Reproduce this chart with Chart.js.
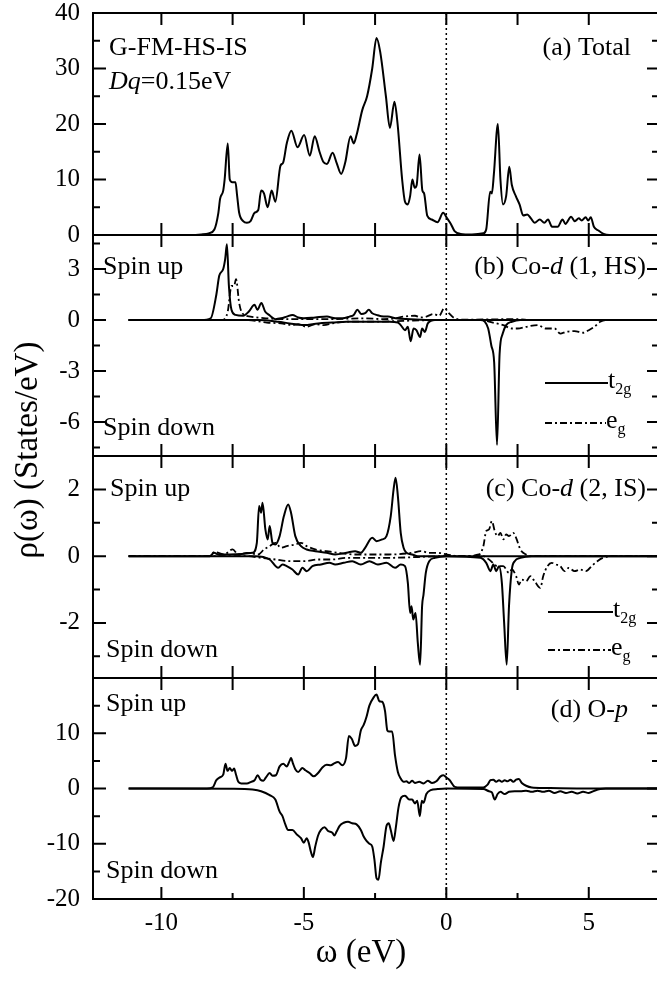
<!DOCTYPE html>
<html>
<head>
<meta charset="utf-8">
<script src="https://cdn.jsdelivr.net/npm/chart.js@4/dist/chart.umd.min.js"></script>
<style>
html,body{margin:0;padding:0;overflow:hidden;background:#fff;}
#wrap{position:relative;width:660px;height:981px;}
</style>
</head>
<body>
<div id="wrap"><canvas id="c" width="660" height="981"></canvas></div>
<script>
// ---------- DATA (omega in eV, rho in States/eV) ----------
const xTicks = [-10, -7.5, -5, -2.5, 0, 2.5, 5, 7.5];
const xLabels = [-10, -5, 0, 5];

// (a) Total
const totalDOS = [[-11.15,0],[-9.0,0],[-8.6,0.1],[-8.34,0.3],[-8.14,1],[-8.0,4],[-7.94,6.5],[-7.83,8],[-7.78,10],[-7.67,16.5],[-7.6,10],[-7.51,9.5],[-7.4,9.5],[-7.34,7],[-7.27,4],[-7.13,2.5],[-7.0,2.2],[-6.87,2.5],[-6.73,4],[-6.6,4.5],[-6.5,8],[-6.4,7.5],[-6.27,5],[-6.13,8],[-6.0,6],[-5.82,12.5],[-5.73,13],[-5.6,16.5],[-5.44,18.8],[-5.22,15.8],[-4.99,18],[-4.79,14.3],[-4.62,17.8],[-4.45,15],[-4.32,13.2],[-4.19,12.8],[-3.99,14.8],[-3.85,13],[-3.69,11],[-3.55,13],[-3.36,17.8],[-3.25,16.5],[-3.15,18],[-2.95,22.5],[-2.78,25],[-2.6,30],[-2.45,35.5],[-2.32,33],[-2.12,25],[-1.98,19.3],[-1.82,24],[-1.71,20],[-1.55,10],[-1.45,6],[-1.35,5.5],[-1.27,7],[-1.19,10],[-1.11,8.5],[-1.04,9],[-0.94,14.5],[-0.84,8],[-0.78,7.5],[-0.67,3.5],[-0.51,2.8],[-0.31,2.3],[-0.11,4],[0.03,3],[0.16,2],[0.29,0.7],[0.5,0.2],[0.9,0.1],[1.3,0.3],[1.4,1],[1.54,7.8],[1.6,7.5],[1.67,11],[1.81,20],[1.9,10],[1.99,5.5],[2.1,7],[2.21,12.3],[2.3,9],[2.44,7],[2.57,5.5],[2.7,3.5],[2.84,3.7],[2.97,3],[3.1,2.2],[3.28,2.8],[3.44,2.2],[3.57,2.8],[3.71,1.5],[3.91,1.5],[4.08,2.8],[4.18,2],[4.38,3.3],[4.51,2.5],[4.65,3],[4.75,2.6],[4.89,3.2],[4.98,2.6],[5.07,3.2],[5.18,1.5],[5.34,0.8],[5.52,0.2],[5.72,0],[7.5,0]];

// (b) Co-d (1, HS)
const coHS_t2g_up = [[-11.15,0],[-8.6,0],[-8.27,0.1],[-8.07,1.5],[-7.97,2.6],[-7.83,3.0],[-7.76,3.6],[-7.7,4.45],[-7.63,2.0],[-7.54,0.6],[-7.4,0.3],[-7.13,0.25],[-6.93,0.5],[-6.73,0.9],[-6.63,0.6],[-6.49,1.0],[-6.36,0.5],[-6.22,0.3],[-6.0,0.05],[-5.8,0.1],[-5.6,0.2],[-5.4,0.3],[-5.2,0.15],[-5.0,0.1],[-4.6,0.15],[-4.19,0.2],[-3.9,0.1],[-3.65,0.1],[-3.4,0.2],[-3.25,0.3],[-3.12,0.6],[-2.98,0.35],[-2.85,0.4],[-2.72,0.6],[-2.6,0.4],[-2.45,0.3],[-2.2,0.2],[-2.05,0.2],[-1.78,0.1],[-1.25,0.05],[-0.5,0],[7.5,0]];
const coHS_eg_up = [[-11.15,0],[-7.85,0],[-7.67,0.5],[-7.54,2.0],[-7.45,2.0],[-7.38,2.4],[-7.27,1.0],[-7.16,0.4],[-6.87,0.2],[-6.33,0.1],[-5.5,0.05],[-4.2,0.05],[-2.85,0.1],[-2.2,0.05],[-1.78,0.1],[-1.5,0.2],[-1.1,0.25],[-0.9,0.15],[-0.7,0.2],[-0.45,0.35],[-0.25,0.25],[-0.07,0.7],[0.09,0.4],[0.29,0.1],[0.6,0.02],[2.5,0.05],[3,0],[7.5,0]];
const coHS_t2g_dn = [[-11.15,0],[-6.6,0],[-5.9,-0.1],[-5.5,-0.2],[-5.0,-0.3],[-4.5,-0.2],[-4.0,-0.15],[-3.5,-0.1],[-2.0,-0.1],[-1.7,-0.15],[-1.6,-0.3],[-1.45,-0.6],[-1.35,-0.4],[-1.25,-1.25],[-1.15,-0.5],[-1.05,-0.6],[-0.92,-1.0],[-0.85,-0.5],[-0.75,-0.7],[-0.65,-0.2],[-0.4,0],[1.2,0],[1.35,-0.1],[1.47,-0.5],[1.58,-1.5],[1.68,-2.5],[1.78,-7.35],[1.87,-2.0],[1.98,-0.8],[2.1,-0.3],[2.3,-0.1],[2.6,0],[7.5,0]];
const coHS_eg_dn = [[-11.15,0],[-7,0],[-6.5,-0.1],[-6.3,-0.15],[-5.8,-0.2],[-5.4,-0.3],[-5.2,-0.25],[-4.9,-0.4],[-4.6,-0.25],[-4.3,-0.3],[-4.0,-0.2],[-3.5,-0.1],[-2.5,-0.1],[-1.5,-0.05],[0,0],[1.3,0],[1.5,-0.1],[2.0,-0.3],[2.3,-0.5],[2.5,-0.5],[2.8,-0.4],[3.2,-0.3],[3.5,-0.5],[3.8,-0.5],[4.0,-0.8],[4.2,-0.7],[4.5,-0.65],[4.8,-0.75],[5.0,-0.6],[5.2,-0.4],[5.4,-0.1],[5.6,0],[7.5,0]];

// (c) Co-d (2, IS)
const coIS_t2g_up = [[-11.15,0],[-8.3,0],[-8.15,0.1],[-8.0,0.05],[-7.6,0.05],[-6.8,0.1],[-6.65,0.4],[-6.57,1.5],[-6.5,1.3],[-6.45,1.6],[-6.35,0.8],[-6.27,0.5],[-6.2,0.9],[-6.1,0.4],[-6.0,0.35],[-5.85,0.6],[-5.7,1.2],[-5.55,1.55],[-5.45,1.3],[-5.3,0.6],[-5.1,0.3],[-4.9,0.2],[-4.6,0.15],[-4.2,0.1],[-3.9,0.05],[-3.5,0.1],[-3.2,0.15],[-3.0,0.1],[-2.85,0.25],[-2.6,0.55],[-2.45,0.45],[-2.25,0.5],[-2.1,0.6],[-1.95,1.2],[-1.85,2.0],[-1.78,2.35],[-1.7,1.8],[-1.6,0.7],[-1.5,0.25],[-1.4,0.1],[-1.2,0.05],[-1.0,0],[7.5,0]];
const coIS_eg_up = [[-11.15,0],[-8.3,0],[-8.15,0.12],[-8.0,0.1],[-7.8,0.05],[-7.5,0.2],[-7.3,0.05],[-7.0,0.1],[-6.6,0.05],[-6.4,0.2],[-6.2,0.3],[-6.0,0.4],[-5.8,0.25],[-5.6,0.3],[-5.3,0.35],[-5.1,0.4],[-4.9,0.3],[-4.6,0.2],[-4.2,0.15],[-3.8,0.1],[-3.2,0.05],[-2.0,0.05],[-1.2,0.1],[-0.9,0.15],[-0.6,0.1],[-0.3,0.1],[0,0.05],[0.5,0],[1.15,0.05],[1.3,0.3],[1.4,0.75],[1.5,0.8],[1.6,1.05],[1.7,0.75],[1.8,0.6],[1.9,0.7],[2.0,0.5],[2.1,0.65],[2.2,0.6],[2.35,0.7],[2.45,0.55],[2.6,0.2],[2.8,0.05],[3.0,0],[7.5,0]];
const coIS_t2g_dn = [[-11.15,0],[-6.7,0],[-6.2,-0.1],[-5.9,-0.35],[-5.75,-0.25],[-5.6,-0.3],[-5.4,-0.4],[-5.2,-0.55],[-5.05,-0.35],[-4.9,-0.45],[-4.7,-0.3],[-4.4,-0.25],[-4.1,-0.2],[-3.9,-0.25],[-3.6,-0.2],[-3.3,-0.15],[-3.0,-0.25],[-2.7,-0.15],[-2.4,-0.25],[-2.1,-0.2],[-1.8,-0.35],[-1.6,-0.25],[-1.45,-0.3],[-1.35,-0.8],[-1.27,-1.7],[-1.22,-1.5],[-1.16,-1.9],[-1.08,-1.7],[-1.0,-2.6],[-0.92,-3.25],[-0.85,-1.5],[-0.8,-1.15],[-0.72,-0.5],[-0.6,-0.15],[-0.4,-0.05],[0,0],[1.2,-0.05],[1.4,-0.2],[1.55,-0.45],[1.65,-0.25],[1.75,-0.45],[1.85,-0.3],[1.95,-0.8],[2.03,-2.0],[2.12,-3.25],[2.2,-1.5],[2.3,-0.4],[2.4,-0.15],[2.6,-0.05],[3,0],[7.5,0]];
const coIS_eg_dn = [[-11.15,0],[-7,0],[-6.5,-0.05],[-6,-0.1],[-5.5,-0.15],[-5,-0.15],[-4.5,-0.1],[-4,-0.1],[-3.5,-0.05],[-2,-0.05],[0,0],[1.3,0],[1.5,-0.1],[1.8,-0.3],[2.0,-0.3],[2.2,-0.5],[2.3,-0.4],[2.45,-0.6],[2.55,-0.85],[2.65,-0.7],[2.8,-0.75],[2.95,-0.6],[3.1,-0.75],[3.3,-0.95],[3.4,-0.6],[3.55,-0.3],[3.7,-0.2],[3.85,-0.25],[4.0,-0.3],[4.15,-0.45],[4.3,-0.35],[4.5,-0.45],[4.7,-0.4],[4.9,-0.45],[5.1,-0.3],[5.3,-0.15],[5.5,-0.05],[5.8,0],[7.5,0]];

// (d) O-p
const Op_up = [[-11.15,0],[-8.4,0],[-8.2,0.2],[-8.07,1.5],[-7.95,2.0],[-7.83,2.5],[-7.75,4.5],[-7.68,3.2],[-7.6,3.7],[-7.52,3.2],[-7.45,3.6],[-7.38,2.5],[-7.3,1.2],[-7.2,0.9],[-7.0,0.9],[-6.85,1.2],[-6.73,1.5],[-6.62,2.4],[-6.52,1.6],[-6.42,1.4],[-6.33,2.0],[-6.2,2.8],[-6.1,2.3],[-5.98,2.4],[-5.85,4.0],[-5.72,4.5],[-5.6,4.0],[-5.5,5.0],[-5.45,5.5],[-5.38,4.5],[-5.3,3.5],[-5.2,3.0],[-5.05,3.7],[-4.95,3.3],[-4.8,2.8],[-4.65,2.2],[-4.5,2.8],[-4.35,3.8],[-4.2,4.3],[-4.05,4.2],[-3.95,4.5],[-3.8,4.8],[-3.65,4.2],[-3.52,5.5],[-3.42,9.5],[-3.32,9.0],[-3.2,7.7],[-3.1,8.0],[-3.0,10.5],[-2.9,11.5],[-2.8,13.0],[-2.7,15.0],[-2.55,16.5],[-2.45,17.0],[-2.35,15.8],[-2.25,15.7],[-2.15,14.0],[-2.07,10.5],[-2.0,10.3],[-1.9,10.3],[-1.8,6.0],[-1.7,3.0],[-1.6,1.8],[-1.5,1.2],[-1.4,1.3],[-1.3,1.0],[-1.2,1.4],[-1.1,1.0],[-0.95,1.2],[-0.8,0.9],[-0.65,1.4],[-0.5,1.0],[-0.35,1.3],[-0.2,2.2],[-0.1,2.4],[0,2.0],[0.12,1.5],[0.3,0.3],[0.5,0.2],[1.0,0.2],[1.3,0.2],[1.45,0.7],[1.55,1.5],[1.65,1.6],[1.75,1.2],[1.85,1.5],[1.95,1.2],[2.05,1.5],[2.15,1.3],[2.25,1.6],[2.35,1.2],[2.45,1.6],[2.55,1.7],[2.65,1.0],[2.8,0.5],[3.0,0.2],[3.5,0.1],[4.0,0.05],[5,0],[7.5,0]];
const Op_dn = [[-11.15,0],[-7.5,-0.05],[-6.8,-0.2],[-6.5,-0.5],[-6.2,-1.2],[-6.0,-2.0],[-5.85,-4.2],[-5.75,-5.0],[-5.65,-6.5],[-5.55,-7.5],[-5.4,-7.5],[-5.25,-8.3],[-5.1,-9.0],[-5.0,-9.8],[-4.9,-9.0],[-4.83,-9.8],[-4.75,-11.5],[-4.68,-12.4],[-4.6,-10.5],[-4.5,-8.5],[-4.4,-7.5],[-4.27,-7.0],[-4.15,-7.7],[-4.0,-8.0],[-3.93,-8.5],[-3.85,-7.8],[-3.75,-6.8],[-3.6,-6.2],[-3.45,-6.0],[-3.3,-6.3],[-3.15,-6.5],[-3.0,-7.5],[-2.9,-8.7],[-2.8,-9.5],[-2.7,-10.0],[-2.6,-10.5],[-2.52,-13.0],[-2.45,-16.2],[-2.38,-16.5],[-2.3,-13.5],[-2.2,-10.5],[-2.1,-6.8],[-2.02,-6.3],[-1.95,-7.5],[-1.85,-9.5],[-1.77,-7.0],[-1.68,-3.5],[-1.58,-1.6],[-1.45,-1.3],[-1.3,-2.0],[-1.2,-2.0],[-1.1,-2.7],[-1.02,-2.2],[-0.93,-5.0],[-0.86,-2.2],[-0.8,-2.6],[-0.7,-1.0],[-0.55,-0.3],[-0.3,-0.1],[0,0],[1.3,-0.1],[1.5,-0.5],[1.6,-0.7],[1.7,-2.0],[1.8,-1.0],[1.9,-0.6],[2.05,-1.0],[2.2,-0.6],[2.4,-0.5],[2.6,-0.5],[2.8,-0.4],[3.0,-0.6],[3.2,-0.4],[3.4,-0.6],[3.6,-0.4],[3.8,-0.8],[4.0,-0.5],[4.2,-0.8],[4.4,-0.6],[4.6,-0.9],[4.8,-0.6],[5.0,-0.8],[5.2,-0.4],[5.4,-0.1],[5.6,0],[7.5,0]];

// y-axis ticks per panel
const yaTicks = [0, 5, 10, 15, 20, 25, 30, 35, 40];
const yaLabels = [0, 10, 20, 30, 40];
const ybTicks = [-7.5, -6, -4.5, -3, -1.5, 0, 1.5, 3, 4.5];
const ybLabels = [-6, -3, 0, 3];
const ycTicks = [-3, -2, -1, 0, 1, 2, 3];
const ycLabels = [-2, 0, 2];
const ydTicks = [-20, -15, -10, -5, 0, 5, 10, 15, 20];
const ydLabels = [-20, -10, 0, 10];

// ---------- CHART ----------
const SERIF = "'Liberation Serif','Times New Roman',serif";
const DASHDOT = [7, 3, 2, 3];
const toPts = arr => arr.map(p => ({x: p[0], y: p[1]}));

function ds(arr, axis, dashed) {
  return {
    data: toPts(arr), yAxisID: axis, borderColor: '#000', borderWidth: dashed ? 1.8 : 2,
    borderDash: dashed ? DASHDOT : [], pointRadius: 0, cubicInterpolationMode: 'monotone', fill: false
  };
}

function yScale(min, max, ticks, labels, weight, stackWeight) {
  return {
    type: 'linear', position: 'left', stack: 'panels', stackWeight: stackWeight, weight: weight,
    min: min, max: max,
    afterBuildTicks: s => { s.ticks = ticks.map(v => ({value: v})); },
    afterFit: s => { s.width = 93; s.paddingTop = 0; s.paddingBottom = 0; },
    grid: {display: false, drawTicks: false},
    border: {display: false},
    ticks: {
      autoSkip: false, padding: 13, color: '#000',
      font: {family: SERIF, size: 25, lineHeight: 1.0},
      callback: v => labels.includes(v) ? String(v) : ''
    },
    _labels: labels
  };
}

function richText(ctx, segs, x, y, align, size) {
  const fnt = s => (s.i ? 'italic ' : '') + (s.sub ? 16 : size) + 'px ' + SERIF;
  let total = 0;
  segs.forEach(s => { ctx.font = fnt(s); s.w = ctx.measureText(s.t).width; total += s.w; });
  let cx = align === 'right' ? x - total : (align === 'center' ? x - total / 2 : x);
  ctx.textAlign = 'left';
  ctx.textBaseline = 'middle';
  segs.forEach(s => { ctx.font = fnt(s); ctx.fillText(s.t, cx, y + (s.sub ? 9 : 0)); cx += s.w; });
}

const panelDecor = {
  id: 'panelDecor',
  beforeDatasetsDraw(chart) {
    const {ctx, chartArea, scales} = chart;
    const x0 = scales.x.getPixelForValue(0);
    ctx.save();
    ctx.strokeStyle = '#000';
    ctx.lineWidth = 1.5;
    ctx.setLineDash([2, 3]);
    ctx.beginPath();
    ctx.moveTo(x0, chartArea.top);
    ctx.lineTo(x0, chartArea.bottom);
    ctx.stroke();
    ctx.restore();
  },
  afterDatasetsDraw(chart) {
    const {ctx, chartArea, scales} = chart;
    const xs = scales.x;
    const L = chartArea.left, R = chartArea.right;
    const panels = ['ya', 'yb', 'yc', 'yd'];
    ctx.save();
    ctx.strokeStyle = '#000';
    ctx.fillStyle = '#000';
    ctx.lineWidth = 2;
    ctx.setLineDash([]);
    panels.forEach((id, pi) => {
      const s = scales[id];
      const T = s.top, B = s.bottom;
      ctx.strokeRect(L, T, R - L, B - T);
      // x ticks (inward)
      xTicks.forEach(v => {
        const px = xs.getPixelForValue(v);
        const major = xLabels.includes(v);
        const topLen = 12;
        const botLen = (pi === 3 && !major) ? 6 : 12;
        ctx.beginPath();
        ctx.moveTo(px, T); ctx.lineTo(px, T + topLen);
        ctx.moveTo(px, B); ctx.lineTo(px, B - botLen);
        ctx.stroke();
      });
      // y ticks (inward both sides)
      const labels = s.options._labels;
      s.ticks.forEach(t => {
        if (t.value <= s.min || t.value >= s.max) return;
        const py = s.getPixelForValue(t.value);
        const major = labels.includes(t.value);
        ctx.beginPath();
        ctx.moveTo(L, py); ctx.lineTo(L + (major ? 13 : 7), py);
        ctx.moveTo(R, py); ctx.lineTo(R - (major ? 13 : 8), py);
        ctx.stroke();
      });
    });

    // annotations
    const a = scales.ya, b = scales.yb, c = scales.yc, d = scales.yd;
    const F = 26;
    richText(ctx, [{t: 'G-FM-HS-IS'}], 109, a.top + 35, 'left', F);
    richText(ctx, [{t: 'Dq', i: true}, {t: '=0.15eV'}], 109, a.top + 69, 'left', F);
    richText(ctx, [{t: '(a) Total'}], 631, a.top + 35, 'right', F);

    richText(ctx, [{t: 'Spin up'}], 103, b.top + 32, 'left', F);
    richText(ctx, [{t: 'Spin down'}], 103, b.bottom - 28, 'left', F);
    richText(ctx, [{t: '(b) Co-'}, {t: 'd', i: true}, {t: ' (1, HS)'}], 646, b.top + 32, 'right', F);

    richText(ctx, [{t: 'Spin up'}], 110, c.top + 33, 'left', F);
    richText(ctx, [{t: 'Spin down'}], 106, c.bottom - 28, 'left', F);
    richText(ctx, [{t: '(c) Co-'}, {t: 'd', i: true}, {t: ' (2, IS)'}], 646, c.top + 33, 'right', F);

    richText(ctx, [{t: 'Spin up'}], 106, d.top + 26, 'left', F);
    richText(ctx, [{t: 'Spin down'}], 106, d.bottom - 28, 'left', F);
    richText(ctx, [{t: '(d) O-'}, {t: 'p', i: true}], 628, d.top + 32, 'right', F);

    // legends in (b) and (c)
    const legend = (x1, x2, y1, y2) => {
      ctx.lineWidth = 2;
      ctx.setLineDash([]);
      ctx.beginPath(); ctx.moveTo(x1, y1); ctx.lineTo(x2, y1); ctx.stroke();
      richText(ctx, [{t: 't'}, {t: '2g', sub: true}], x2, y1 - 2, 'left', F);
      ctx.setLineDash(DASHDOT);
      ctx.beginPath(); ctx.moveTo(x1, y2); ctx.lineTo(x2 - 2, y2); ctx.stroke();
      ctx.setLineDash([]);
      richText(ctx, [{t: 'e'}, {t: 'g', sub: true}], x2 - 2, y2 - 2, 'left', F);
    };
    legend(545, 608, b.top + 148, b.top + 188);
    legend(548, 613, c.top + 156, c.top + 194);

    // axis titles
    ctx.save();
    ctx.translate(28, 450);
    ctx.rotate(-Math.PI / 2);
    ctx.font = '33px ' + SERIF;
    ctx.textAlign = 'center';
    ctx.textBaseline = 'middle';
    ctx.fillText('\u03C1(\u03C9) (States/eV)', 0, 0);
    ctx.restore();
    ctx.font = '33px ' + SERIF;
    ctx.textAlign = 'center';
    ctx.textBaseline = 'middle';
    ctx.fillText('\u03C9 (eV)', 361, 953);
    ctx.restore();
  }
};

new Chart(document.getElementById('c'), {
  type: 'line',
  data: {
    datasets: [
      ds(totalDOS, 'ya', false),
      ds(coHS_t2g_up, 'yb', false), ds(coHS_t2g_dn, 'yb', false),
      ds(coHS_eg_up, 'yb', true), ds(coHS_eg_dn, 'yb', true),
      ds(coIS_t2g_up, 'yc', false), ds(coIS_t2g_dn, 'yc', false),
      ds(coIS_eg_up, 'yc', true), ds(coIS_eg_dn, 'yc', true),
      ds(Op_up, 'yd', false), ds(Op_dn, 'yd', false)
    ]
  },
  options: {
    responsive: false,
    animation: false,
    events: [],
    layout: {padding: {top: 13, left: 0, right: 0, bottom: 0}},
    plugins: {legend: {display: false}, tooltip: {enabled: false}},
    scales: {
      x: {
        type: 'linear', position: 'bottom', min: -12.4, max: 7.5,
        afterBuildTicks: s => { s.ticks = xTicks.map(v => ({value: v})); },
        afterFit: s => { s.height = 82; s.paddingLeft = 0; s.paddingRight = 0; },
        grid: {display: false, drawTicks: false},
        border: {display: false},
        ticks: {
          autoSkip: false, maxRotation: 0, padding: 12, color: '#000',
          font: {family: SERIF, size: 25, lineHeight: 1.0},
          callback: v => xLabels.includes(v) ? String(v) : ''
        }
      },
      yd: yScale(-20, 20, ydTicks, ydLabels, 1, 221),
      yc: yScale(-3.65, 3, ycTicks, ycLabels, 2, 222),
      yb: yScale(-8, 5, ybTicks, ybLabels, 3, 221),
      ya: yScale(0, 40, yaTicks, yaLabels, 4, 222)
    }
  },
  plugins: [panelDecor]
});
</script>
</body>
</html>
